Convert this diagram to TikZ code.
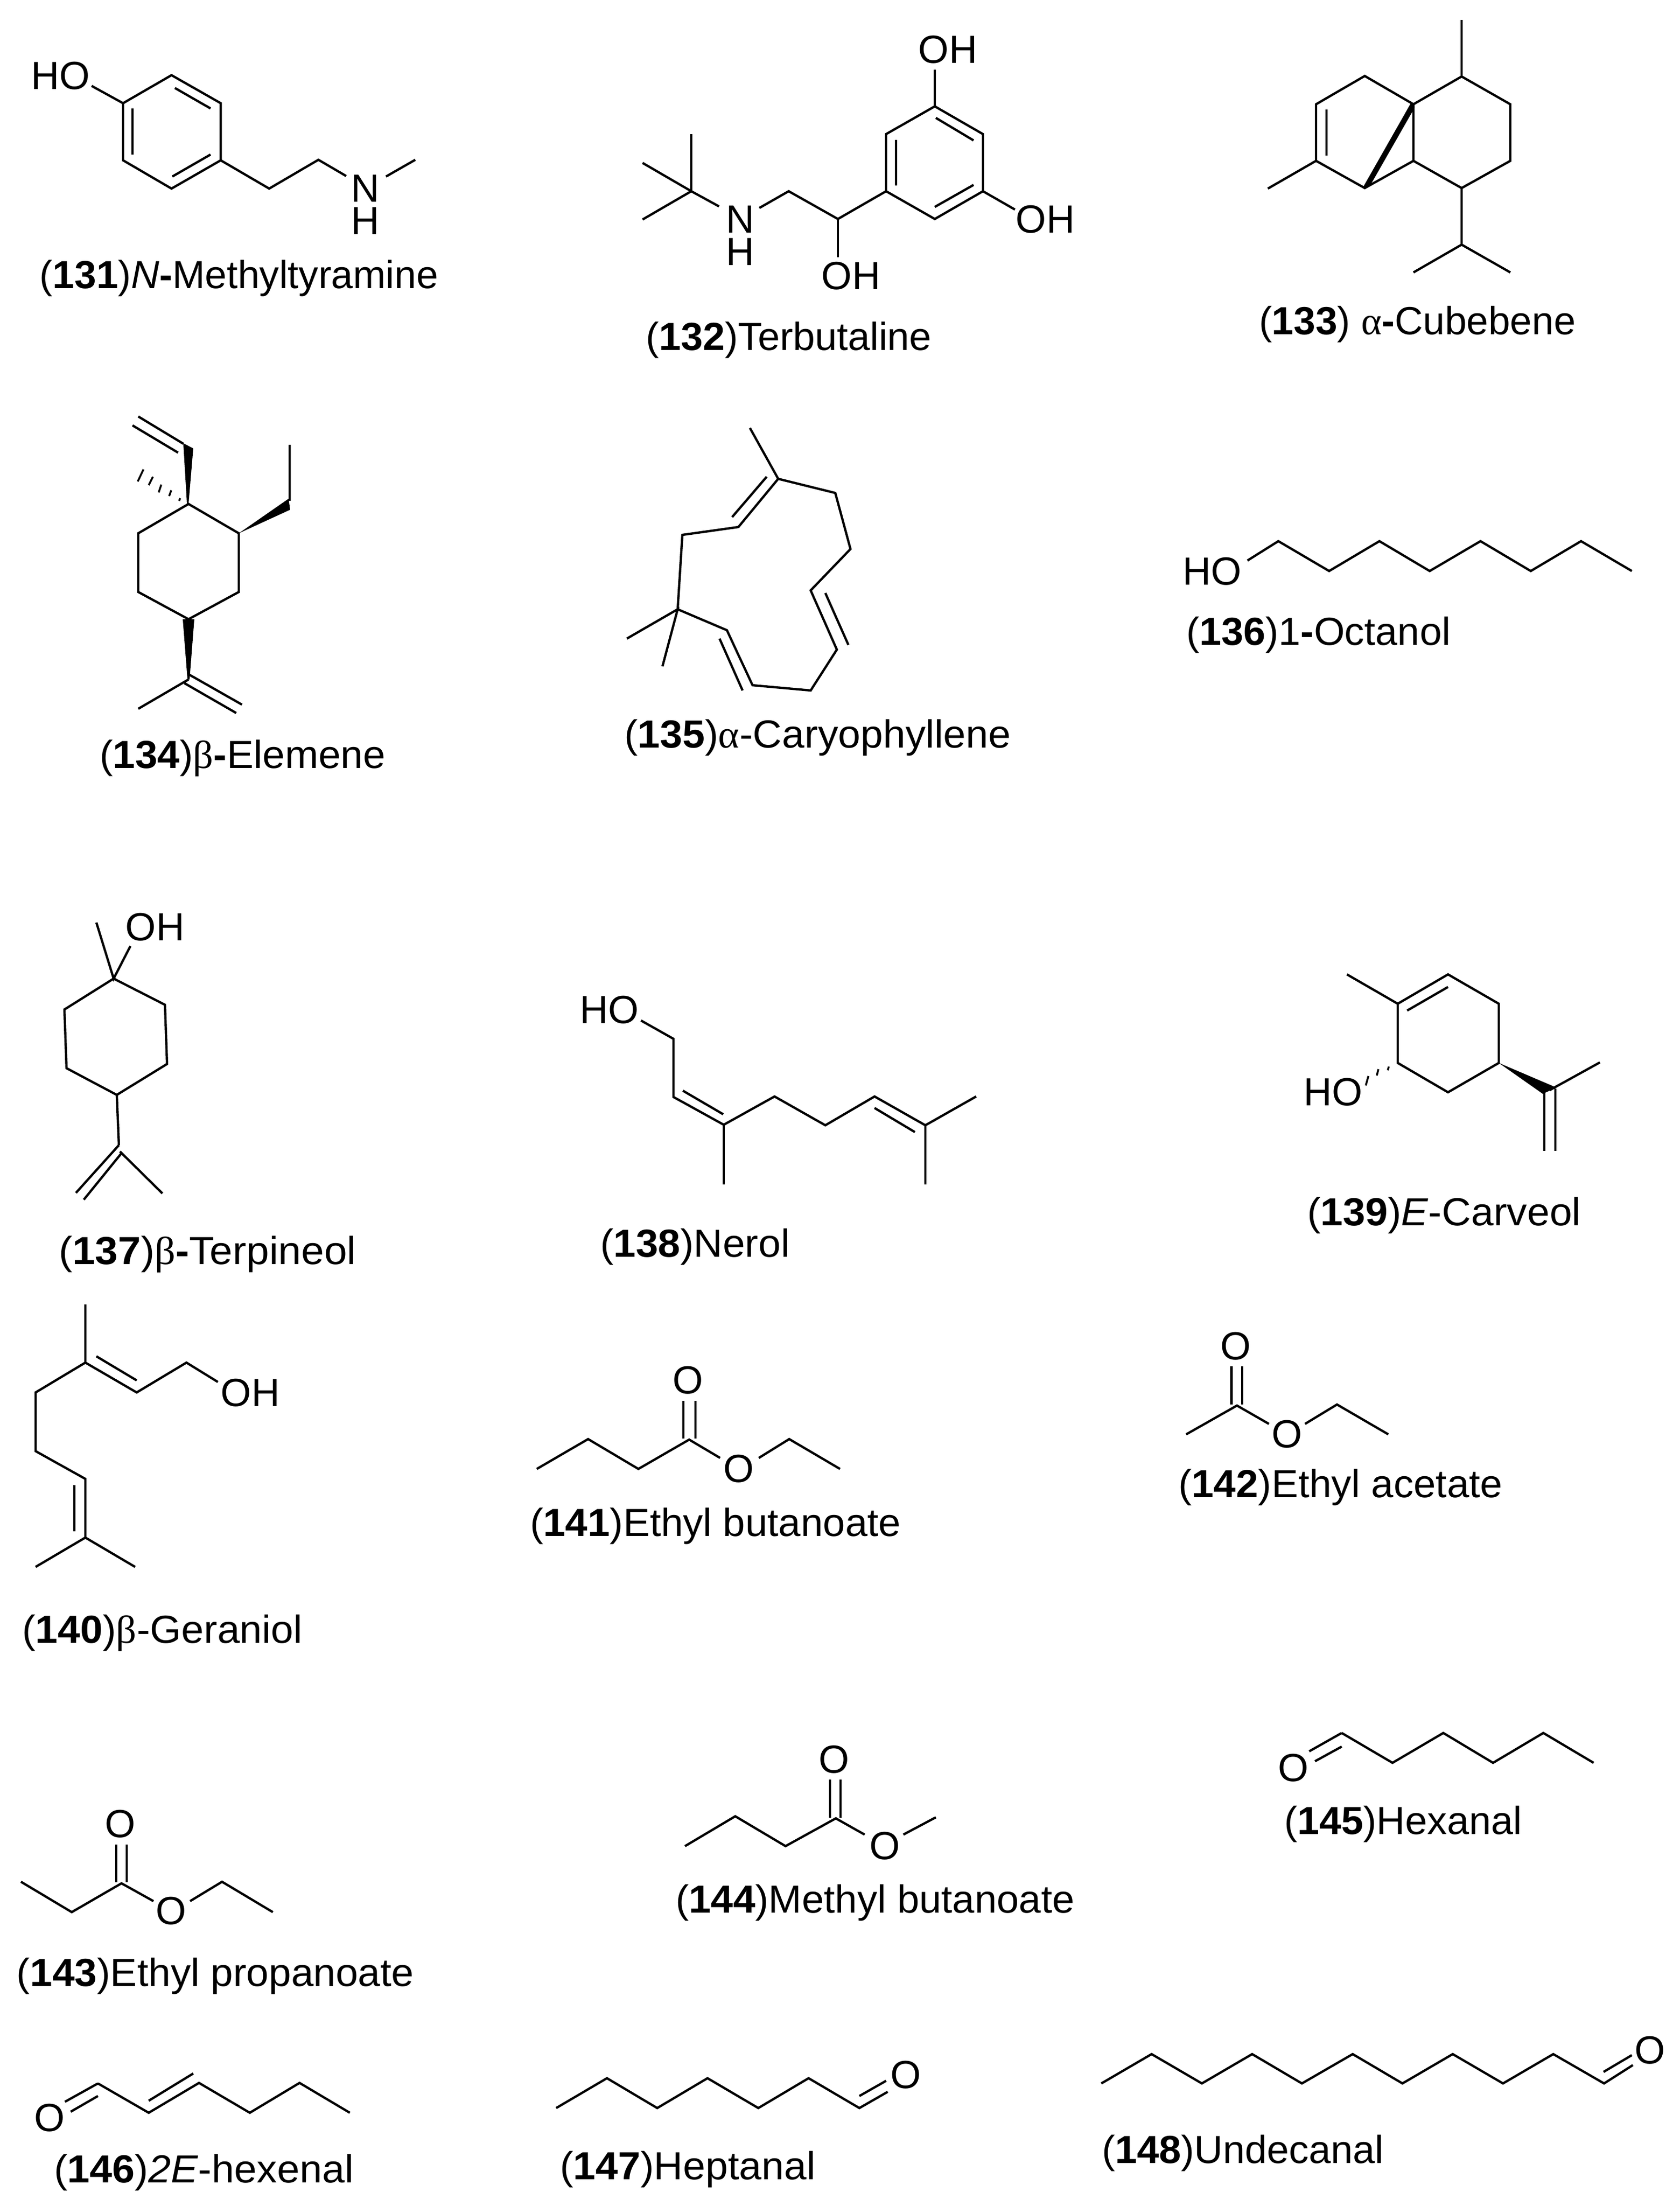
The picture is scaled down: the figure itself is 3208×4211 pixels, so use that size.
\documentclass[tikz,border=0pt]{standalone}
\usepackage{fontspec}
\setmainfont{Liberation Sans}
\newfontfamily\gk{Liberation Serif}
\tikzset{
  bond/.style={draw=black,line width=1.1pt,line join=miter,line cap=butt},
  inner/.style={draw=black,line width=1.1pt},
  wedge/.style={fill=black,draw=none},
  hash/.style={draw=black,line width=0.9pt},
  atom/.style={inner sep=0pt,outer sep=0pt,font=\fontsize{18.75}{20}\selectfont},
  amine/.style={inner sep=0pt,outer sep=0pt,align=center,font=\fontsize{18.75}{15.5}\selectfont},
  lab/.style={anchor=base west,inner sep=0pt,outer sep=0pt,font=\fontsize{18.7}{22}\selectfont}
}
\newcommand{\num}[1]{(\textbf{#1})}
\newcommand{\wid}[2]{\scalebox{#1}[1]{#2}}
\begin{document}
\begin{tikzpicture}[x=0.25pt,y=-0.25pt]
\useasboundingbox (0,0) rectangle (3208,4211);
\fill[white] (0,0) rectangle (3208,4211);
% 131
\node[atom] (a131ho) at (116,145) {HO};
\node[amine] (a131nh) at (698,391) {N\\H};
\draw[bond] (175,164) -- (235,197);
\draw[bond] (235,197) -- (327.5,143.5) -- (421.5,197) -- (421.5,306) -- (327.5,360) -- (235,306) -- cycle;
\draw[bond] (421.5,306) -- (514,360) -- (608,305) -- (661,336);
\draw[bond] (737,337) -- (793,305);
\draw[inner] (253,207) -- (253,295) (334,168) -- (402,207) (329,337) -- (402,295);
\node[lab] (l131) at (76,550) {\num{131}\textit{N}\textbf{-}Methyltyramine};
% 132
\node[amine] (a132nh) at (1414,450) {N\\H};
\node[atom] (a132oh) at (1625,527) {OH};
\node[atom] (a132oh2) at (1810,95) {OH};
\node[atom] (a132oh3) at (1996,419) {OH};
\draw[bond] (1320,256) -- (1320,365) (1227,311) -- (1320,365) (1227,419) -- (1320,365) -- (1373,394);
\draw[bond] (1450,397) -- (1506,365) -- (1600,418) -- (1692,365);
\draw[bond] (1600,418) -- (1600,491);
\draw[bond] (1692,365) -- (1692,256) -- (1785,203) -- (1877,256) -- (1877,365) -- (1785,418) -- cycle;
\draw[bond] (1785,203) -- (1785,133) (1877,365) -- (1938,400);
\draw[inner] (1711,267) -- (1711,354) (1787,225) -- (1859,268) (1785,395) -- (1859,353);
\node[lab] (l132) at (1233,668) {\wid{1.01}{\num{132}Terbutaline}};
% 133
\draw[bond] (2791,38) -- (2791,146);
\draw[bond] (2791,146) -- (2884,199) -- (2884,307) -- (2791,359) -- (2699,307) -- (2699,199) -- cycle;
\draw[bond] (2699,199) -- (2606,145) -- (2513,199) -- (2513,307) -- (2606,359) -- (2699,307);
\draw[bond] (2513,307) -- (2421,360);
\draw[inner] (2533,209) -- (2533,297);
\draw[bond] (2791,359) -- (2791,467) -- (2699,520) (2791,467) -- (2884,520);
\fill[wedge] (2694,197) -- (2701,199) -- (2701,206) -- (2617,353) -- (2606,360) -- (2603,357) -- cycle;
\node[lab] (l133) at (2404,638) {\num{133} {\gk α}\textbf{-}Cubebene};
% 134
\draw[bond] (360,962) -- (456,1018) -- (456,1130) -- (360,1182) -- (264,1130) -- (264,1018) -- cycle;
\fill[wedge] (360,962) -- (369,856) -- (350,846) -- (357,962) -- cycle;
\draw[bond] (350,847) -- (264,795);
\draw[inner] (340,864) -- (253,812);
\draw[hash] (344,951) -- (342,956) (327,936) -- (323,947) (308,925) -- (303,940) (292,910) -- (284,926) (274,896) -- (263,919);
\fill[wedge] (456,1018) -- (551,952) -- (554,973) -- cycle;
\draw[bond] (553,956) -- (553,849);
\fill[wedge] (349,1182) -- (371,1182) -- (362,1297) -- (358,1297) -- cycle;
\draw[bond] (360,1297) -- (264,1353);
\draw[inner] (360,1287) -- (462,1345) (352,1304) -- (451,1361);
\node[lab] (l134) at (190,1466) {\wid{1.025}{\num{134}{\gk β}\textbf{-}Elemene}};
% 135
\draw[bond] (1432,817) -- (1486,914) -- (1595,941) -- (1624,1048) -- (1548,1127) -- (1598,1240) -- (1548,1318) -- (1437,1308) -- (1388,1203) -- (1294,1163) -- (1303,1021) -- (1410,1006) -- (1486,914);
\draw[bond] (1197,1219) -- (1294,1163) -- (1265,1272);
\draw[inner] (1398,987) -- (1464,910) (1576,1132) -- (1620,1231) (1418,1318) -- (1374,1219);
\node[lab] (l135) at (1192,1427) {\wid{1.03}{\num{135}{\gk α}-Caryophyllene}};
% 136
\node[atom] (a136ho) at (2315,1091) {HO};
\draw[bond] (2382,1070) -- (2441,1033) -- (2538,1090) -- (2634,1033) -- (2730,1090) -- (2827,1033) -- (2923,1090) -- (3019,1033) -- (3116,1090);
\node[lab] (l136) at (2265,1231) {\wid{1.012}{\num{136}1\textbf{-}Octanol}};
% 137
\node[atom] (a137oh) at (296,1770) {OH};
\draw[bond] (217,1868) -- (315,1918) -- (319,2031) -- (223,2090) -- (127,2039) -- (123,1927) -- cycle;
\draw[bond] (184,1761) -- (217,1868) -- (249,1806);
\draw[bond] (223,2090) -- (227,2186);
\draw[inner] (227,2186) -- (145,2277) (233,2200) -- (160,2290);
\draw[bond] (229,2198) -- (310,2278);
\node[lab] (l137) at (112,2413) {\wid{1.05}{\num{137}{\gk β}\textbf{-}Terpineol}};
% 138
\node[atom] (a138ho) at (1164,1928) {HO};
\draw[bond] (1224,1948) -- (1286,1983) -- (1286,2094) -- (1382,2147) -- (1479,2093) -- (1576,2148) -- (1670,2093) -- (1767,2148) -- (1864,2093);
\draw[bond] (1382,2147) -- (1382,2261) (1767,2148) -- (1767,2261);
\draw[inner] (1304,2082) -- (1381,2127) (1670,2115) -- (1747,2161);
\node[lab] (l138) at (1146,2399) {\wid{1.025}{\num{138}Nerol}};
% 139
\node[atom] (a139ho) at (2546,2085) {HO};
\draw[bond] (2765,1860) -- (2862,1916) -- (2862,2029) -- (2765,2085) -- (2669,2029) -- (2669,1916) -- cycle;
\draw[bond] (2572,1860) -- (2669,1916);
\draw[inner] (2687,1929) -- (2765,1884);
\fill[wedge] (2862,2029) -- (2946,2088) -- (2972,2076) -- cycle;
\draw[bond] (2959,2081) -- (3055,2028);
\draw[inner] (2949,2086) -- (2949,2197) (2970,2078) -- (2970,2197);
\draw[hash] (2652,2036) -- (2650,2043) (2632,2041) -- (2629,2053) (2613,2054) -- (2608,2072);
\node[lab] (l139) at (2496,2339) {\wid{1.03}{\num{139}\textit{E}-Carveol}};
% 140
\node[atom] (a140oh) at (478,2659) {OH};
\draw[bond] (163,2490) -- (163,2601) -- (261,2658) -- (356,2601) -- (416,2638);
\draw[bond] (163,2601) -- (68,2658) -- (68,2770) -- (163,2823) -- (163,2935) -- (68,2991) (163,2935) -- (258,2991);
\draw[inner] (184,2589) -- (261,2635) (142,2835) -- (142,2923);
\node[lab] (l140) at (42,3136) {\wid{1.03}{\num{140}{\gk β}-Geraniol}};
% 141
\node[atom] (a141o) at (1314,2635) {O};
\node[atom] (a141o2) at (1411,2804) {O};
\draw[inner] (1305,2674) -- (1305,2746) (1328,2674) -- (1328,2746);
\draw[bond] (1025,2804) -- (1123,2747) -- (1219,2804) -- (1316,2748) -- (1375,2783);
\draw[bond] (1449,2783) -- (1507,2747) -- (1604,2804);
\node[lab] (l141) at (1012,2932) {\wid{1.02}{\num{141}Ethyl butanoate}};
% 142
\node[atom] (a142o) at (2360,2570) {O};
\node[atom] (a142o2) at (2458,2738) {O};
\draw[inner] (2351.5,2608) -- (2351.5,2681) (2372,2608) -- (2372,2681);
\draw[bond] (2265,2738) -- (2362,2683) -- (2423,2718);
\draw[bond] (2492,2718) -- (2553,2681) -- (2651,2738);
\node[lab] (l142) at (2250,2858) {\wid{1.02}{\num{142}Ethyl acetate}};
% 143
\node[atom] (a143o) at (230,3482) {O};
\node[atom] (a143o2) at (327,3648) {O};
\draw[inner] (222,3521) -- (222,3593) (242,3521) -- (242,3593);
\draw[bond] (40,3592) -- (137,3650) -- (232,3595) -- (293,3629);
\draw[bond] (363,3629) -- (424,3592) -- (521,3650);
\node[lab] (l143) at (32,3791) {\wid{1.025}{\num{143}Ethyl propanoate}};
% 144
\node[atom] (a144o) at (1593,3359) {O};
\node[atom] (a144o2) at (1690,3524) {O};
\draw[inner] (1585,3397) -- (1585,3470) (1605,3397) -- (1605,3470);
\draw[bond] (1308,3524) -- (1404,3467) -- (1500,3524) -- (1596,3471) -- (1651,3502);
\draw[bond] (1725,3502) -- (1787,3469);
\node[lab] (l144) at (1290,3651) {\wid{1.018}{\num{144}Methyl butanoate}};
% 145
\node[atom] (a145o) at (2470,3375) {O};
\draw[inner] (2500,3343) -- (2562,3308) (2511,3362) -- (2562,3334);
\draw[bond] (2562,3308) -- (2659,3365) -- (2756,3308) -- (2851,3365) -- (2947,3308) -- (3043,3365);
\node[lab] (l145) at (2452,3501) {\wid{1.012}{\num{145}Hexanal}};
% 146
\node[atom] (a146o) at (95,4043) {O};
\draw[inner] (124,4012) -- (187,3977) (135,4031) -- (187,4001);
\draw[bond] (187,3977) -- (284,4033) -- (380,3976) -- (477,4033) -- (572,3976) -- (668,4033);
\draw[inner] (284,4010) -- (369,3958);
\node[lab] (l146) at (103,4166) {\wid{1.034}{\num{146}\textit{2E}-hexenal}};
% 147
\node[atom] (a147o) at (1730,3961) {O};
\draw[bond] (1062,4024) -- (1159,3967) -- (1255,4024) -- (1351,3967) -- (1448,4024) -- (1544,3967) -- (1641,4024) -- (1695,3993);
\draw[inner] (1641,4001) -- (1692,3972);
\node[lab] (l147) at (1069,4160) {\wid{1.03}{\num{147}Heptanal}};
% 148
\node[atom] (a148o) at (3151,3914) {O};
\draw[bond] (2103,3977) -- (2199,3921) -- (2295,3977) -- (2391,3921) -- (2486,3977) -- (2583,3921) -- (2678,3977) -- (2774,3921) -- (2870,3977) -- (2966,3921) -- (3063,3977) -- (3118,3942);
\draw[inner] (3062,3955) -- (3116,3923);
\node[lab] (l148) at (2104,4129) {\wid{1.012}{\num{148}Undecanal}};
\end{tikzpicture}
\end{document}
